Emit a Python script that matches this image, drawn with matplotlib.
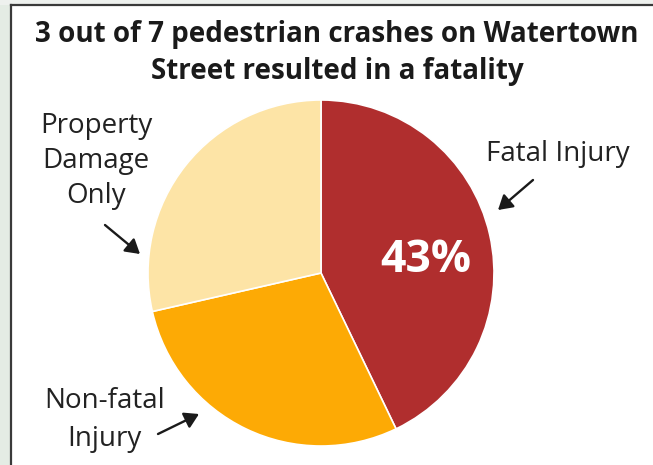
import matplotlib
matplotlib.use("Agg")
import matplotlib.pyplot as plt
from matplotlib.patches import Rectangle, FancyArrowPatch

categories = ["Fatal Injury", "Non-fatal Injury", "Property Damage Only"]
crashes = [3, 2, 2]
colors = ["#B02E2E", "#FDAA05", "#FDE4A6"]
title_lines = ["3 out of 7 pedestrian crashes on Watertown",
               "Street resulted in a fatality"]

W, H = 653, 465
fig = plt.figure(figsize=(W / 100, H / 100), dpi=100)
fig.patch.set_facecolor("white")

FONT = "Open Sans"


def fx(x):
    return x / W


def fy(y):
    return 1 - y / H


# outer frame and backdrop
fig.patches.append(Rectangle((0, 0), fx(10), 1, transform=fig.transFigure,
                             facecolor="#E4ECE4", edgecolor="none", zorder=0))
fig.patches.append(Rectangle((0, fy(5)), 1, 1 - fy(5), transform=fig.transFigure,
                             facecolor="#EEF1EE", edgecolor="none", zorder=0))
fig.add_artist(plt.Line2D([fx(10.5), fx(10.5)], [0, fy(5.5)], transform=fig.transFigure,
                          color="#3A3A3A", lw=1.6))
fig.add_artist(plt.Line2D([fx(10.5), 1], [fy(5.5), fy(5.5)], transform=fig.transFigure,
                          color="#3A3A3A", lw=1.6))

for line, base in zip(title_lines, [42, 79]):
    fig.text(fx(337), fy(base), line, ha="center", va="baseline", fontsize=20,
             fontweight="bold", family=FONT, color="#1A1A1A")

# pie
cx, cy, r = 321, 273, 173
ax = fig.add_axes([fx(cx - r), fy(cy + r), 2 * r / W, 2 * r / H])
ax.pie(crashes, colors=colors, startangle=90, counterclock=False, radius=1,
       wedgeprops=dict(edgecolor="white", linewidth=1.2))
ax.set_xlim(-1, 1)
ax.set_ylim(-1, 1)
ax.set_aspect("auto")
ax.axis("off")

pct = round(100 * crashes[0] / sum(crashes))
fig.text(fx(426), fy(272), f"{pct}%", ha="center", va="baseline", fontsize=32,
         fontweight="bold", family=FONT, color="white")

label_kw = dict(ha="center", va="baseline", fontsize=20, family=FONT, color="#222222")
for word, base in zip(["Property", "Damage", "Only"], [133, 168, 203]):
    fig.text(fx(96), fy(base), word, **label_kw)
fig.text(fx(558), fy(161), "Fatal Injury", **label_kw)
fig.text(fx(105), fy(408), "Non-fatal", **label_kw)
fig.text(fx(104), fy(446), "Injury", **label_kw)


def arrow(x0, y0, x1, y1):
    fig.add_artist(FancyArrowPatch(
        (fx(x0), fy(y0)), (fx(x1), fy(y1)), transform=fig.transFigure,
        arrowstyle="-|>,head_length=5,head_width=3", mutation_scale=1.7,
        color="#1A1A1A", lw=1.7, shrinkA=0, shrinkB=0))


arrow(105, 225, 140, 254)
arrow(533, 180, 498, 210)
arrow(158, 434, 199, 414)

fig.savefig("out.png", dpi=100)
